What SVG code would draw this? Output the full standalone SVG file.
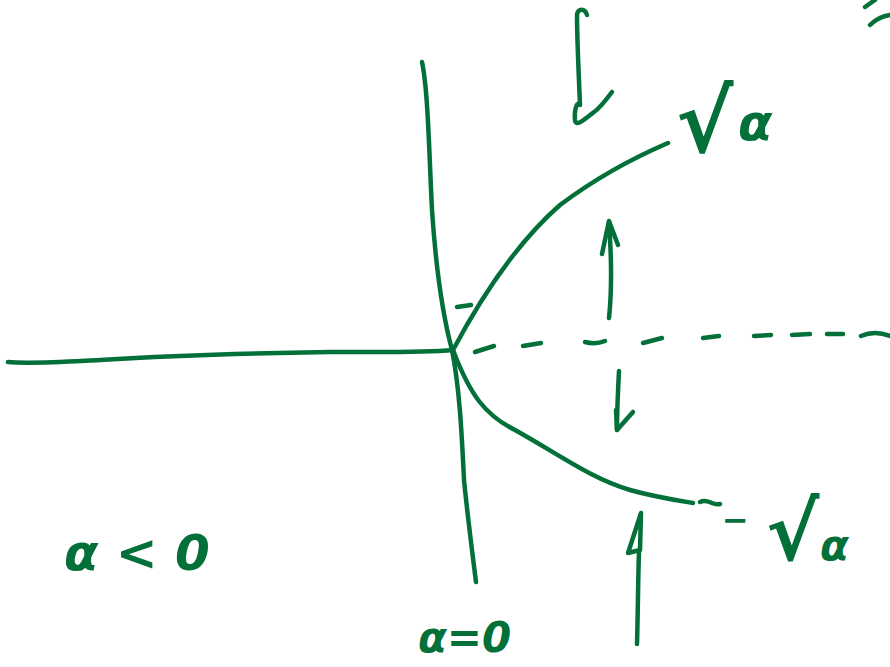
<svg xmlns="http://www.w3.org/2000/svg" width="890" height="667" viewBox="0 0 890 667">
<style>
.s{fill:none;stroke:#047039;stroke-width:4.5;stroke-linecap:round;stroke-linejoin:round}
.t{fill:#047039;font-family:"DejaVu Sans",sans-serif;font-style:italic;font-weight:bold}
</style>
<rect width="890" height="667" fill="#ffffff"/>
<g id="connectors">
<path id="alpha-axis" class="s" d="M8,362 C30,364 60,362 100,360 C180,355 260,353 330,352 C380,352 420,353 453,350"/>
<path id="critical-line" class="s" d="M422,62 C428,90 429,150 432,210 C436,270 444,320 452,350 C460,390 462,440 464,480 C468,520 472,550 476,582"/>
<path id="upper-branch" class="s" d="M453,350 C485,290 520,240 560,205 C600,175 640,155 668,143"/>
<path id="lower-branch" class="s" d="M453,350 C470,395 485,415 515,430 C560,455 590,478 630,490 C655,497 675,500 693,503"/>
<path class="s" d="M700,502 C708,498 712,506 720,504"/>
<path id="tick" class="s" d="M457,307 L471,305"/>
<g id="dashed-branch">
<path class="s" d="M475,352 L494,346"/>
<path class="s" d="M523,346 L541,343"/>
<path class="s" d="M585,342 C592,344 600,343 605,341"/>
<path class="s" d="M643,343 L662,338"/>
<path class="s" d="M703,338 L719,336"/>
<path class="s" d="M754,336 L771,335"/>
<path class="s" d="M792,335 L810,334"/>
<path class="s" d="M827,334 L843,334"/>
<path class="s" d="M861,336 C870,332 880,332 890,336"/>
</g>
<g id="arrow-up">
<path class="s" d="M609,318 C612,290 611,250 609,222"/>
<path class="s" d="M602,254 L609,221 L618,245"/>
</g>
<g id="arrow-down">
<path class="s" d="M619,371 C618,390 617,410 617,430"/>
<path class="s" d="M616,410 L617,430 L633,412"/>
</g>
<g id="arrow-bottom">
<path class="s" d="M637,644 C638,610 638,580 639,552"/>
<path class="s" d="M628,553 L641,513 L640,550 Z" fill="#047039"/>
</g>
<path id="alpha-direction" class="s" d="M587,15 C585,8 578,8 577,15 C577,40 579,80 580,105 C578,100 574,108 575,120 C576,128 586,118 594,112 C600,108 606,100 612,92"/>
<path id="corner-marks" class="s" d="M865,7 L875,0 M870,25 C876,19 883,16 890,15"/>
</g>
<g id="label-sqrt">
<text class="t" x="676" y="152" font-size="86">√</text>
<text class="t" x="738" y="140" font-size="50">α</text>
</g>
<g id="label-neg-sqrt">
<text class="t" x="722" y="531" font-size="32">−</text>
<text class="t" x="766" y="560" font-size="80">√</text>
<text class="t" x="820" y="560" font-size="42">α</text>
</g>
<g id="label-alpha-neg">
<text class="t" x="64" y="570" font-size="50">α &lt; 0</text>
</g>
<g id="label-alpha-zero">
<text class="t" x="418" y="652" font-size="42">α=0</text>
</g>
</svg>
